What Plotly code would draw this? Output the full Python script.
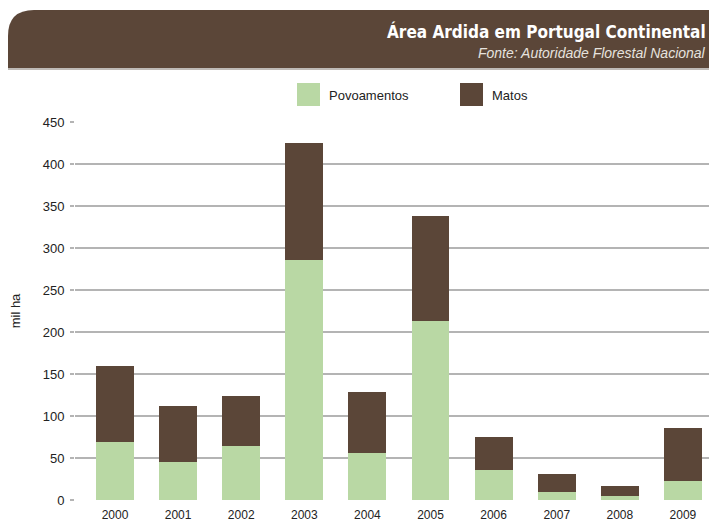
import plotly.graph_objects as go

anos = ["2000", "2001", "2002", "2003", "2004", "2005", "2006", "2007", "2008", "2009"]
povoamentos = [68.5, 45, 64.5, 285.5, 56, 213, 36, 10, 5, 22.5]
matos = [91, 67, 59.5, 139.5, 72.5, 125, 39, 21, 12, 63.5]
y_ticks = [0, 50, 100, 150, 200, 250, 300, 350, 400, 450]
series = ["Povoamentos", "Matos"]

VERDE = "#b9d8a4"
CASTANHO = "#5b4638"

# a pagina tem margem de 8px no body -> figura de 709x515
OFF = 8
W, H = 717 - OFF, 523 - OFF
# area do grafico (pixeis do ecra): x 75..717, y 122..500
L, R, T, B = 75 - OFF, 717 - OFF, 122 - OFF, 500 - OFF

def px_x(p):
    return (p - OFF - L) / (R - L)

def px_y(p):
    return (B - (p - OFF)) / (B - T)

fig = go.Figure()
fig.add_trace(go.Bar(x=anos, y=povoamentos, name=series[0],
                     marker=dict(color=VERDE, line=dict(width=0))))
fig.add_trace(go.Bar(x=anos, y=matos, name=series[1],
                     marker=dict(color=CASTANHO, line=dict(width=0))))

# faixa do titulo com canto arredondado
x0, x1, y0, y1, r = 8, 717, 10, 68, 26
path = (f"M {px_x(x0)} {px_y(y1)} L {px_x(x0)} {px_y(y0 + r)} "
        f"Q {px_x(x0)} {px_y(y0)} {px_x(x0 + r)} {px_y(y0)} "
        f"L {px_x(x1)} {px_y(y0)} L {px_x(x1)} {px_y(y1)} Z")
fig.add_shape(type="path", path=path, xref="paper", yref="paper",
              fillcolor=CASTANHO, line=dict(width=0), layer="below")
fig.add_shape(type="line", xref="paper", yref="paper",
              x0=px_x(x0), x1=px_x(x1), y0=px_y(y1 + 1), y1=px_y(y1 + 1),
              line=dict(color="#a8a39e", width=1.5))

fig.add_annotation(text="<b>Área Ardida em Portugal Continental</b>",
                   xref="paper", yref="paper", x=px_x(708), y=px_y(31),
                   xanchor="right", yanchor="middle", showarrow=False,
                   font=dict(family="DejaVu Sans Condensed", size=17, color="white"))
fig.add_annotation(text="<i>Fonte: Autoridade Florestal Nacional</i>",
                   xref="paper", yref="paper", x=px_x(708), y=px_y(53),
                   xanchor="right", yanchor="middle", showarrow=False,
                   font=dict(family="Liberation Sans, Arial", size=14, color="#e6e2de"))

# legenda desenhada (quadrados grandes como no original)
leg_x = [297, 460]
leg_cores = [VERDE, CASTANHO]
for nome, lx, cor in zip(series, leg_x, leg_cores):
    fig.add_shape(type="rect", xref="paper", yref="paper",
                  x0=px_x(lx), x1=px_x(lx + 23), y0=px_y(83), y1=px_y(106),
                  fillcolor=cor, line=dict(width=0))
    fig.add_annotation(text=nome, xref="paper", yref="paper",
                       x=px_x(lx + 30), y=px_y(95), xanchor="left", yanchor="middle",
                       showarrow=False, font=dict(size=13, color="#222222"))

fig.update_layout(
    width=W, height=H,
    barmode="stack", bargap=0.4,
    margin=dict(l=L, r=W - R, t=T, b=H - B),
    paper_bgcolor="white", plot_bgcolor="white",
    font=dict(family="Liberation Sans, Arial", size=12, color="#222222"),
    showlegend=False,
)
fig.update_xaxes(type="category", range=[-0.634, 9.54], showgrid=False,
                 showline=False, ticks="", ticklabelstandoff=6,
                 tickfont=dict(size=12))
fig.update_yaxes(range=[0, 450], tickvals=y_ticks, showgrid=True,
                 gridcolor="#b4b4b4", gridwidth=1.5, zeroline=False,
                 ticks="outside", ticklen=4, tickcolor="#b4b4b4", tickwidth=1.5,
                 ticklabelstandoff=3, tickfont=dict(size=13),
                 title=dict(text="mil ha", font=dict(size=13), standoff=20))

fig.write_html("out.html")
